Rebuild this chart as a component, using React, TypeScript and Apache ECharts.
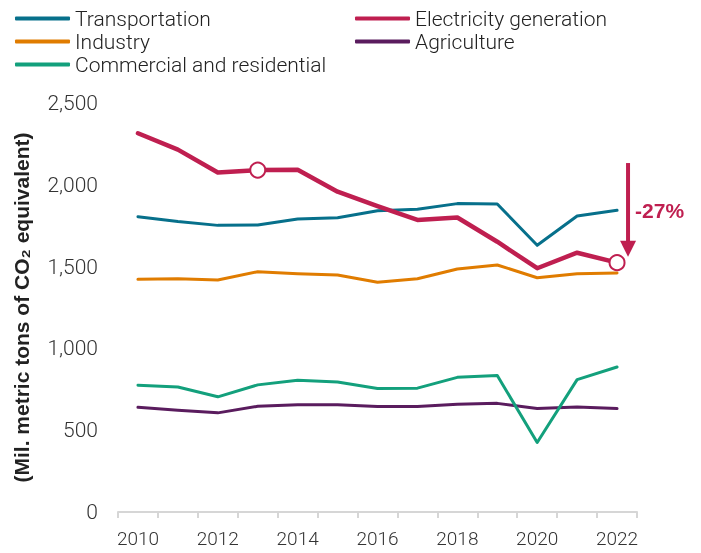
import React, { useEffect, useRef } from "react";
import * as echarts from "echarts";

const years = ["2010","2011","2012","2013","2014","2015","2016","2017","2018","2019","2020","2021","2022"];
const transportation = [1805, 1775, 1752, 1754, 1791, 1799, 1842, 1850, 1885, 1883, 1630, 1809, 1844];
const electricity = [2315, 2215, 2075, 2090, 2092, 1958, 1870, 1785, 1800, 1652, 1490, 1585, 1524];
const industry = [1422, 1426, 1418, 1469, 1457, 1449, 1404, 1426, 1485, 1510, 1432, 1457, 1461];
const agriculture = [640, 622, 606, 646, 655, 655, 645, 645, 658, 664, 632, 642, 632];
const commercial = [775, 764, 704, 777, 806, 794, 755, 757, 823, 834, 425, 809, 886];
const highlightIdx = [3, 12];
const changeLabel = "-27%";

const COLORS = {
  transportation: "#07708b",
  electricity: "#bf1f50",
  industry: "#e07c00",
  agriculture: "#5a1c5e",
  commercial: "#13a07c",
};

export default function App() {
  const ref = useRef<HTMLDivElement>(null);
  useEffect(() => {
    if (!ref.current) return;
    const chart = echarts.init(ref.current, undefined, { renderer: "svg" });
    const font = "Roboto";
    const boldFont = "Liberation Sans";
    const legendText = { fontFamily: font, fontSize: 21, fontWeight: 300, color: "#222", lineHeight: 23 };
    const line = (name: string, data: any[], color: string, width: number, z = 2) => ({
      name,
      type: "line",
      data,
      symbol: "none",
      z,
      lineStyle: { color, width, cap: "round", join: "round" },
      itemStyle: { color },
      emphasis: { disabled: true },
    });
    const elecData = electricity.map((v, i) =>
      highlightIdx.includes(i)
        ? { value: v, symbol: "circle", symbolSize: 15, itemStyle: { color: "#fff", borderColor: COLORS.electricity, borderWidth: 2 } }
        : v
    );
    chart.setOption({
      animation: false,
      legend: [
        {
          left: 15, top: 7, padding: 0, orient: "vertical", itemGap: 0, itemWidth: 55, itemHeight: 4,
          icon: "roundRect", textStyle: legendText,
          data: ["Transportation", "Industry", "Commercial and residential"],
        },
        {
          left: 355, top: 7, padding: 0, orient: "vertical", itemGap: 0, itemWidth: 55, itemHeight: 4,
          icon: "roundRect", textStyle: legendText,
          data: ["Electricity generation", "Agriculture"],
        },
      ],
      grid: { left: 118, right: 64, top: 103, bottom: 41 },
      xAxis: {
        type: "category",
        data: years,
        boundaryGap: true,
        axisLine: { show: true, lineStyle: { color: "#d6d6d6", width: 2 } },
        axisTick: { show: true, interval: 0, alignWithLabel: false, length: 6, lineStyle: { color: "#d6d6d6", width: 2 } },
        axisLabel: { interval: 1, margin: 17, fontFamily: font, fontSize: 19, fontWeight: 300, color: "#333" },
      },
      yAxis: {
        type: "value",
        min: 0,
        max: 2500,
        interval: 500,
        axisLine: { show: false },
        axisTick: { show: false },
        splitLine: { show: false },
        axisLabel: {
          margin: 20, fontFamily: font, fontSize: 21, fontWeight: 300, color: "#333",
          formatter: (v: number) => v.toLocaleString("en-US"),
        },
        name: "(Mil. metric tons of CO\u2082 equivalent)",
        nameLocation: "middle",
        nameGap: 86,
        nameTextStyle: { fontFamily: boldFont, fontSize: 21, fontWeight: "bold", color: "#222" },
      },
      series: [
        line("Transportation", transportation, COLORS.transportation, 3),
        line("Industry", industry, COLORS.industry, 3),
        line("Agriculture", agriculture, COLORS.agriculture, 3),
        line("Commercial and residential", commercial, COLORS.commercial, 3),
        { ...line("Electricity generation", elecData, COLORS.electricity, 4.5, 3), symbol: "none" },
      ],
    });

    const xLast = chart.convertToPixel({ xAxisIndex: 0 }, years.length - 1) as number;
    const ax = xLast + 11;
    const yTop = chart.convertToPixel({ yAxisIndex: 0 }, 2133) as number;
    const yBot = chart.convertToPixel({ yAxisIndex: 0 }, 1560) as number;
    const yText = chart.convertToPixel({ yAxisIndex: 0 }, 1840) as number;
    chart.setOption({
      graphic: [
        { type: "line", shape: { x1: ax, y1: yTop, x2: ax, y2: yBot - 14 }, style: { stroke: COLORS.electricity, lineWidth: 4 } },
        { type: "polygon", shape: { points: [[ax - 8, yBot - 16], [ax + 8, yBot - 16], [ax, yBot]] }, style: { fill: COLORS.electricity } },
        {
          type: "text", x: ax + 7, y: yText,
          style: { text: changeLabel, fill: COLORS.electricity, font: `bold 21px ${boldFont}`, verticalAlign: "middle", align: "left" },
        },
      ],
    });
    return () => chart.dispose();
  }, []);
  return <div ref={ref} style={{ position: "fixed", left: 0, top: 0, width: 701, height: 553 }} />;
}
